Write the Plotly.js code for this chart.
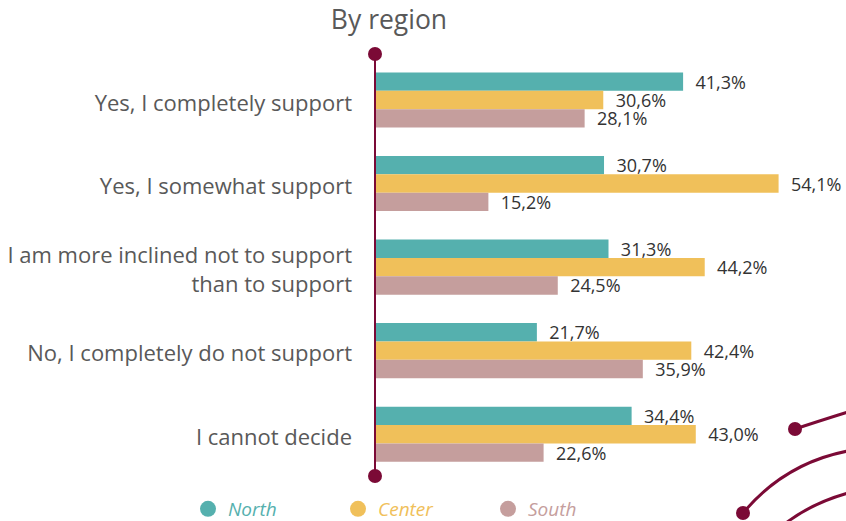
<!DOCTYPE html>
<html>
<head>
<meta charset="utf-8">
<script src="https://cdn.plot.ly/plotly-3.0.1.min.js"></script>
<style>html,body{margin:0;padding:0;background:#fff;}#chart{width:846px;height:521px;}</style>
</head>
<body>
<div id="chart"></div>
<script>
const categories = [
  "Yes, I completely support",
  "Yes, I somewhat support",
  "I am more inclined not to support<br>than to support",
  "No, I completely do not support",
  "I cannot decide"
];
const seriesNames = ["North", "Center", "South"];
const north  = [41.3, 30.7, 31.3, 21.7, 34.4];
const center = [30.6, 54.1, 44.2, 42.4, 43.0];
const south  = [28.1, 15.2, 24.5, 35.9, 22.6];
const titleText = "By region";

const colors = ["#55b0ae", "#f0c05a", "#c59e9d"];
const accent = "#7b0a36";
const FONT = "Open Sans, sans-serif";

const W = 846, H = 521, L = 375, T = 54, B = 45, R = 0;
const pw = W - L - R, ph = H - T - B;
function px(x) { return (x - L) / pw; }
function py(y) { return 1 - (y - T) / ph; }
function pt(x, y) { return px(x) + "," + py(y); }

const values = [north, center, south];
const traces = [];
values.forEach((v, i) => {
  traces.push({
    type: "bar", orientation: "h",
    x: v, y: categories,
    name: seriesNames[i],
    marker: { color: colors[i] },
    texttemplate: "\u00a0\u00a0%{x:.1f}%",
    textposition: "outside",
    constraintext: "none",
    cliponaxis: false,
    textfont: { family: FONT, size: 18, color: "#333333" },
    hoverinfo: "skip",
    showlegend: false
  });
});
seriesNames.forEach((n, i) => {
  traces.push({
    type: "scatter", mode: "markers",
    x: [null], y: [null],
    name: '<span style="color:' + colors[i] + '">' + n + '</span>',
    marker: { color: colors[i], size: 16, symbol: "circle" },
    hoverinfo: "skip",
    showlegend: true
  });
});

function dot(x, y, r) {
  return {
    type: "circle", xref: "paper", yref: "paper",
    xsizemode: "pixel", ysizemode: "pixel",
    xanchor: x, yanchor: y,
    x0: -r, x1: r, y0: -r, y1: r,
    fillcolor: accent, line: { width: 0 }, layer: "above"
  };
}
function arc(p0, c, p2) {
  return {
    type: "path", xref: "paper", yref: "paper",
    path: "M" + pt(p0[0], p0[1]) + " Q" + pt(c[0], c[1]) + " " + pt(p2[0], p2[1]),
    line: { color: accent, width: 3 }, layer: "above"
  };
}

const shapes = [
  { type: "line", xref: "paper", yref: "paper", x0: 0, x1: 0, y0: 0, y1: 1,
    line: { color: accent, width: 2 }, layer: "above" },
  dot(0, 1, 7), dot(0, 0, 7),
  arc([795, 429], [819, 421], [848, 412]),
  arc([743, 513], [785, 463], [848, 451]),
  arc([775, 532], [805, 505], [848, 493]),
  dot(px(795), py(429), 7),
  dot(px(743), py(513), 7)
];

const layout = {
  width: W, height: H,
  margin: { l: L, r: R, t: T, b: B, pad: 0 },
  paper_bgcolor: "#ffffff", plot_bgcolor: "#ffffff",
  separators: ", ",
  font: { family: FONT, color: "#333333" },
  title: {
    text: titleText, x: 389 / W, xref: "container", xanchor: "center",
    y: 1 - 20 / H, yref: "container", yanchor: "middle",
    font: { family: FONT, size: 26.5, color: "#595959" }
  },
  barmode: "group", bargap: 0.34, bargroupgap: 0,
  xaxis: { range: [0, pw / 7.46], visible: false, fixedrange: true },
  yaxis: {
    range: [4.5, -0.55], showgrid: false, zeroline: false, showline: false,
    ticks: "", ticklabelstandoff: 22, ticklabelshift: -3,
    tickfont: { family: FONT, size: 22, color: "#595959" },
    automargin: false, fixedrange: true
  },
  showlegend: true,
  legend: {
    orientation: "h", xref: "container", x: 188 / W, xanchor: "left",
    yref: "container", y: (H - 509) / H, yanchor: "middle",
    entrywidth: 105, entrywidthmode: "pixels",
    font: { family: FONT, size: 19, style: "italic", color: "#595959" },
    bgcolor: "rgba(0,0,0,0)", borderwidth: 0
  },
  shapes: shapes
};

Plotly.newPlot("chart", traces, layout, { displayModeBar: false, staticPlot: true });
</script>
</body>
</html>
